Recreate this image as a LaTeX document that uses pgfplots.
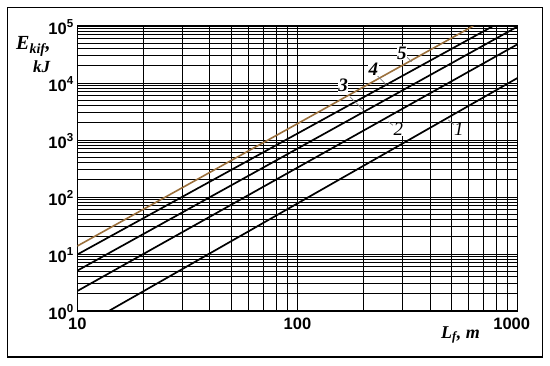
\documentclass[border=0pt]{standalone}
\usepackage{fontspec}
\setmainfont{Liberation Serif}
\newfontfamily\arial{Liberation Sans}
\usepackage{pgfplots}
\pgfplotsset{compat=1.18}
\definecolor{brownline}{RGB}{155,112,60}
\begin{document}
\begin{tikzpicture}[x=1pt,y=1pt]
\path[fill=white] (0,0) rectangle (550,365);
\draw[line width=1.8pt] (7.5,8) rectangle (542.5,357.5);
\begin{axis}[at={(77.3pt,54pt)}, anchor=south west, scale only axis,
  width=440.4pt, height=285pt,
  xmode=log, ymode=log, xmin=10, xmax=1000, ymin=1, ymax=100000,
  xtick={10,100,1000}, xticklabels={10,100,\hspace*{-12pt}1000},
  ytick={1,10,100,1000,10000,100000},
  yticklabels={10\textsuperscript{0},10\textsuperscript{1},10\textsuperscript{2},10\textsuperscript{3},10\textsuperscript{4},10\textsuperscript{5}},
  minor xtick={20,30,40,50,60,70,80,90,200,300,400,500,600,700,800,900},
  minor ytick={2,3,4,5,6,7,8,9,20,30,40,50,60,70,80,90,200,300,400,500,600,700,800,900,2000,3000,4000,5000,6000,7000,8000,9000,20000,30000,40000,50000,60000,70000,80000,90000},
  grid=both,
  major grid style={black,line width=0.9pt},
  minor grid style={black,line width=0.8pt},
  major tick length=0pt, minor tick length=0pt,
  axis line style={line width=1.4pt},
  tick label style={font=\arial\bfseries\fontsize{16.5}{16.5}\selectfont},
  xticklabel style={yshift=-3pt},
  yticklabel style={yshift=-1pt},
  clip=true,
]
\addplot[black, line width=1.7pt] coordinates {(13.9,1) (1000,12300)};
\addplot[black, line width=1.7pt] coordinates {(10,2.24) (1000,48000)};
\addplot[black, line width=1.7pt] coordinates {(10,5.1) (1000,98000)};
\addplot[black, line width=1.7pt] coordinates {(10,9.8) (774,100000)};
\addplot[brownline, line width=1.6pt] coordinates {(10,13.8) (628,100000)};
% leaders
\draw[gray, line width=0.7pt] (axis cs:313,28900) -- (axis cs:330,23650);
\draw[gray, line width=0.7pt] (axis cs:229,13800) -- (axis cs:254,9230);
\draw[gray, line width=0.7pt] (axis cs:173,5750) -- (axis cs:199,3360);
\draw[gray, line width=0.7pt] (axis cs:258,2094) -- (axis cs:277,1711);
\draw[gray, line width=0.7pt] (axis cs:484,2244) -- (axis cs:528,1711);
% labels
\node[font=\bfseries\itshape\fontsize{19}{19}\selectfont, fill=white, inner sep=0.5pt] at (axis cs:298,33600) {5};
\node[font=\bfseries\itshape\fontsize{19}{19}\selectfont, fill=white, inner sep=0.5pt] at (axis cs:221,17400) {4};
\node[font=\bfseries\itshape\fontsize{19}{19}\selectfont, fill=white, inner sep=0.5pt] at (axis cs:161,9230) {3};
\node[font=\itshape\fontsize{19}{19}\selectfont, fill=white, inner sep=0.5pt] at (axis cs:287,1540) {2};
\node[font=\itshape\fontsize{19}{19}\selectfont, fill=white, inner sep=0.5pt] at (axis cs:541,1540) {1};
\end{axis}
\node[font=\bfseries\itshape\fontsize{20}{20}\selectfont, anchor=base west, inner sep=0pt] at (16,315) {E\textsubscript{kif},};
\node[font=\bfseries\itshape\fontsize{17}{17}\selectfont, anchor=base west, inner sep=0pt] at (33,292) {kJ};
\node[font=\bfseries\itshape\fontsize{18}{18}\selectfont, anchor=base west, inner sep=0pt] at (441,27) {L\textsubscript{f}, m};
\end{tikzpicture}
\end{document}
